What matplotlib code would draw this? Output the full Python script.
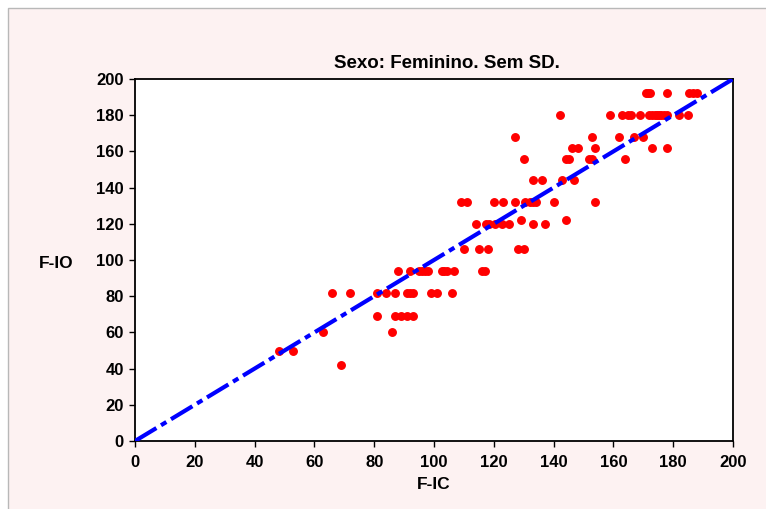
import numpy as np
import matplotlib
matplotlib.use('Agg')
from matplotlib import pyplot as plt
from matplotlib.patches import Rectangle

# points, grouped by F-IO level
f_io_levels = [42, 50, 60, 69, 82, 94, 106, 120, 122, 132, 144, 156, 162, 168, 180, 192]
f_ic_by_level = [
    [69],
    [48, 53],
    [63, 86],
    [81, 87, 89, 91, 93],
    [66, 72, 81, 84, 87, 91, 92, 93, 99, 101, 106],
    [88, 92, 95, 96, 97, 98, 102.7, 103.4, 104.2, 106.8, 116, 117],
    [110, 115, 118, 128, 130],
    [114, 117.4, 118.3, 120.4, 122.7, 125.1, 133, 137],
    [129, 144],
    [109, 111, 120, 123, 127, 130.5, 132, 133, 134, 140, 154],
    [133, 136, 142.7, 146.8],
    [130, 144, 145, 152, 153, 164],
    [146, 148, 154, 173, 178],
    [127, 153, 162, 167, 170],
    [142, 159, 163, 165, 166, 169, 172, 173, 174, 174.7, 175.3, 176, 177, 178, 182, 185],
    [171, 171.6, 172.2, 178, 185.4, 186.7, 188],
]
ref_line = [0, 200]
ticks = [0, 20, 40, 60, 80, 100, 120, 140, 160, 180, 200]

f_ic = np.concatenate([np.array(v, dtype=float) for v in f_ic_by_level])
f_io = np.concatenate([np.full(len(v), lvl, dtype=float) for lvl, v in zip(f_io_levels, f_ic_by_level)])

plt.rcParams['font.family'] = ['Liberation Sans', 'DejaVu Sans']
plt.rcParams['font.weight'] = 'bold'

fig = plt.figure(figsize=(7.66, 5.09), dpi=100, facecolor='white')
# pinkish panel with grey edge at top/left
fig.patches.append(Rectangle((8 / 766, -0.1), 1.2, 1 - 8 / 509 + 0.1,
                             transform=fig.transFigure, facecolor='#fdf2f2',
                             edgecolor='#b8b8b8', linewidth=1.0, zorder=-5))

ax = fig.add_axes([135 / 766, 1 - 441 / 509, (733 - 135) / 766, (441 - 79) / 509])
ax.set_facecolor('white')

ax.plot(ref_line, ref_line, color='#0000ff', lw=3.0, dashes=(6, 1.3, 1.5, 1.3),
        solid_capstyle='butt', dash_capstyle='butt', zorder=3)
ax.plot(f_ic, f_io, 'o', color='#ff0000', ms=5.4, mec='#ff0000', zorder=2)

ax.set_xlim(0, 200)
ax.set_ylim(0, 200)
ax.set_xticks(ticks)
ax.set_yticks(ticks)
ax.tick_params(direction='out', length=4, width=1, labelsize=12)
ax.tick_params(axis='x', pad=6)
ax.tick_params(axis='y', pad=4)
for lab in ax.get_xticklabels() + ax.get_yticklabels():
    lab.set_fontweight('bold')
for s in ax.spines.values():
    s.set_linewidth(1.3)

ax.set_xlabel('F-IC', fontsize=12.5, fontweight='bold', labelpad=5)
fig.text(56 / 766, 1 - 263 / 509, 'F-IO', ha='center', va='center',
         fontsize=12.5, fontweight='bold')
fig.text(447 / 766, 1 - 64 / 509, 'Sexo: Feminino. Sem SD.', ha='center', va='center',
         fontsize=13.5, fontweight='bold')

fig.savefig('out.png', dpi=100, facecolor=fig.get_facecolor())
